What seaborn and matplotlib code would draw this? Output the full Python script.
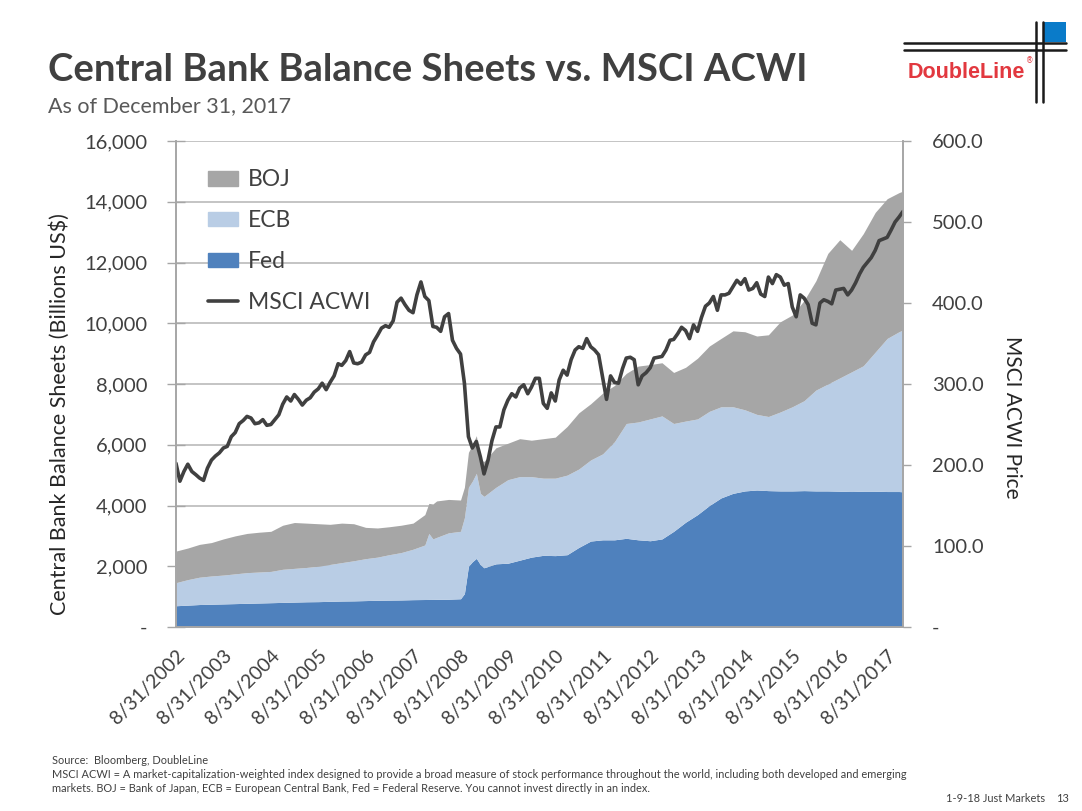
import pandas as pd
import numpy as np
import matplotlib
matplotlib.use("Agg")
import matplotlib.pyplot as plt
import matplotlib.ticker as mticker
from matplotlib.patches import Patch, Rectangle
from matplotlib.lines import Line2D
import seaborn as sns

# balance sheets, billions US$
area_dates = ["2002-08-31", "2002-11-30", "2003-02-28", "2003-05-31", "2003-08-31", "2003-11-30",
              "2004-02-29", "2004-05-31", "2004-08-31", "2004-11-30", "2005-02-28", "2005-05-31", "2005-08-31", "2005-11-30",
              "2006-02-28", "2006-05-31", "2006-08-31", "2006-11-30", "2007-02-28", "2007-05-31", "2007-08-31", "2007-11-30",
              "2007-12-31", "2008-01-31", "2008-02-29", "2008-05-31", "2008-08-31", "2008-09-30", "2008-10-31", "2008-11-30",
              "2008-12-31", "2009-01-31", "2009-02-28", "2009-05-31", "2009-08-31", "2009-11-30", "2010-02-28", "2010-05-31",
              "2010-08-31", "2010-11-30", "2011-02-28", "2011-05-31", "2011-08-31", "2011-11-30", "2012-02-29", "2012-05-31",
              "2012-08-31", "2012-11-30", "2013-02-28", "2013-05-31", "2013-08-31", "2013-11-30", "2014-02-28", "2014-05-31",
              "2014-08-31", "2014-11-30", "2015-02-28", "2015-05-31", "2015-08-31", "2015-11-30", "2016-02-29", "2016-05-31",
              "2016-08-31", "2016-11-30", "2017-02-28", "2017-05-31", "2017-08-31", "2017-11-30", "2017-12-31"]

fed = [700, 720, 740, 750, 760, 770,
       780, 790, 800, 810, 820, 830, 835, 845,
       855, 860, 870, 880, 885, 890, 900, 905,
       907, 908, 910, 915, 930, 1100, 2000, 2150,
       2260, 2050, 1950, 2080, 2100, 2200, 2300, 2360,
       2350, 2380, 2620, 2830, 2870, 2870, 2920, 2870,
       2840, 2900, 3150, 3450, 3700, 4000, 4250, 4400,
       4480, 4510, 4490, 4480, 4480, 4490, 4480, 4480,
       4470, 4460, 4470, 4470, 4460, 4460, 4450]

ecb = [760, 840, 900, 930, 950, 980,
       1010, 1020, 1030, 1090, 1110, 1130, 1165, 1215,
       1265, 1320, 1380, 1420, 1495, 1560, 1660, 1795,
       2173, 1992, 2040, 2185, 2220, 2500, 2600, 2650,
       2800, 2350, 2350, 2520, 2750, 2750, 2650, 2540,
       2550, 2620, 2580, 2670, 2830, 3230, 3780, 3880,
       4010, 4050, 3550, 3330, 3150, 3100, 3000, 2850,
       2670, 2490, 2440, 2600, 2770, 2960, 3320, 3520,
       3730, 3940, 4130, 4580, 5040, 5260, 5330]

boj = [1040, 1040, 1080, 1100, 1190, 1250,
       1290, 1310, 1320, 1450, 1510, 1460, 1400, 1320,
       1300, 1220, 1030, 960, 920, 900, 860, 1000,
       990, 1150, 1200, 1100, 1030, 1000, 1150, 1200,
       1240, 1100, 1150, 1300, 1200, 1250, 1200, 1300,
       1350, 1600, 1850, 1850, 2000, 1850, 1650, 1840,
       1790, 1750, 1680, 1770, 2000, 2150, 2250, 2500,
       2570, 2580, 2690, 2970, 3020, 3300, 3600, 4300,
       4550, 4000, 4350, 4600, 4600, 4580, 4570]

# MSCI ACWI month-end price, Aug 2002 - Dec 2017
msci_start = "2002-08-31"
msci_acwi = [202, 180, 192, 201, 192,
             188, 184, 181, 196, 206, 211, 215, 221, 223, 235, 240, 251,
             255, 260, 258, 251, 252, 256, 249, 250, 256, 262, 275, 284,
             279, 287, 281, 274, 280, 283, 290, 294, 301, 293, 302, 310,
             325, 323, 329, 340, 326, 325, 327, 336, 339, 352, 360, 369,
             372, 370, 378, 401, 406, 398, 391, 388, 410, 426, 408, 403,
             371, 370, 365, 383, 387, 354, 344, 337, 301, 235, 221, 229,
             210, 189, 206, 230, 247, 247, 268, 280, 288, 284, 295, 299,
             288, 296, 307, 307, 276, 270, 289, 279, 305, 317, 311, 330,
             342, 346, 344, 356, 346, 342, 336, 308, 281, 310, 302, 301,
             319, 332, 333, 330, 299, 310, 314, 320, 332, 333, 334, 342,
             354, 355, 362, 370, 366, 356, 373, 365, 382, 396, 400, 408,
             391, 410, 410, 412, 420, 428, 423, 430, 416, 418, 425, 411,
             408, 432, 424, 435, 432, 422, 424, 395, 383, 410, 406, 398,
             375, 373, 400, 404, 402, 399, 416, 417, 418, 410, 416, 425,
             436, 444, 450, 456, 465, 477, 479, 481, 490, 500, 506, 513]

tick_years = list(range(2002, 2018))

sns.set_style("white")
plt.rcParams['font.family'] = ['Lato', 'DejaVu Sans']

area = pd.DataFrame({"date": pd.to_datetime(area_dates), "Fed": fed, "ECB": ecb, "BOJ": boj})
msci = pd.DataFrame({"date": pd.date_range(msci_start, periods=len(msci_acwi), freq="ME"),
                     "MSCI ACWI": msci_acwi})

c_fed, c_ecb, c_boj, c_line = "#4f81bd", "#b9cde5", "#a6a6a6", "#404040"
txt = "#404040"
axis_gray = "#a6a6a6"

fig = plt.figure(figsize=(10.82, 8.11), dpi=100)
ax = fig.add_axes([176 / 1082, 1 - 627 / 811, 727 / 1082, 486 / 811])

ax.stackplot(area["date"], area["Fed"], area["ECB"], area["BOJ"],
             colors=[c_fed, c_ecb, c_boj], linewidth=0)
ax.set_xlim(pd.Timestamp("2002-08-31"), pd.Timestamp("2017-12-31"))
ax.set_ylim(0, 16000)
ax.set_yticks(range(0, 16001, 2000))
ax.yaxis.set_major_formatter(mticker.FuncFormatter(lambda v, p: "-" if v == 0 else f"{v:,.0f}"))
ax.grid(axis="y", color="#bfbfbf", lw=1.3)
ax.grid(axis="x", visible=False)
ax.set_axisbelow(True)

ticks = [pd.Timestamp(f"{y}-08-31") for y in tick_years]
ax.set_xticks(ticks)
ax.set_xticklabels([f"8/31/{y}" for y in tick_years], rotation=45, ha="right",
                   rotation_mode="anchor", fontsize=14, color=txt)
ax.tick_params(axis="x", direction="out", length=5, width=1, color=axis_gray, pad=9)
ax.tick_params(axis="y", direction="inout", length=13, width=1, color=axis_gray, labelsize=14.5,
               labelcolor=txt, pad=14)
ax.set_xlabel("")
ax.set_ylabel("")

ax2 = ax.twinx()
sns.lineplot(data=msci, x="date", y="MSCI ACWI", ax=ax2, color=c_line, lw=2.6, legend=False)
ax2.set_ylim(0, 600)
ax2.set_yticks(range(0, 601, 100))
ax2.yaxis.set_major_formatter(mticker.FuncFormatter(lambda v, p: "-" if v == 0 else f"{v:.1f}"))
ax2.tick_params(axis="y", direction="out", length=6, width=1, color=axis_gray, labelsize=14.5,
                labelcolor=txt, pad=15)
ax2.set_ylabel("")
ax2.set_xlabel("")
ax2.grid(False)

for a in (ax, ax2):
    a.spines["top"].set_visible(False)
    for s in ("left", "right", "bottom"):
        a.spines[s].set_color(axis_gray)
        a.spines[s].set_linewidth(1.2)

handles = [Patch(color=c_boj, label="BOJ"), Patch(color=c_ecb, label="ECB"),
           Patch(color=c_fed, label="Fed"), Line2D([], [], color=c_line, lw=2.6, label="MSCI ACWI")]
leg = ax2.legend(handles=handles, loc="upper left", bbox_to_anchor=(0.044, 0.942), frameon=False,
                 fontsize=16.5, handlelength=1.3, handleheight=0.62, labelspacing=0.87,
                 handletextpad=0.45, borderpad=0, borderaxespad=0)
for t in leg.get_texts():
    t.set_color(txt)

fig.text(60 / 1082, 1 - 414 / 811, "Central Bank Balance Sheets (Billions US$)", rotation=90,
         ha="center", va="center", fontsize=15.5, color="#262626")
fig.text(1012 / 1082, 1 - 417 / 811, "MSCI ACWI Price", rotation=270,
         ha="center", va="center", fontsize=15, color="#262626")

fig.text(48 / 1082, 1 - 70 / 811, "Central Bank Balance Sheets vs. MSCI ACWI", ha="left", va="center",
         fontsize=27.5, fontweight="bold", color=txt)
fig.text(48 / 1082, 1 - 106 / 811, "As of December 31, 2017", ha="left", va="center",
         fontsize=15.5, color="#595959")

fig.text(52 / 1082, 1 - 760 / 811, "Source:  Bloomberg, DoubleLine", fontsize=7.9, color=txt, va="center")
fig.text(52 / 1082, 1 - 775 / 811, "MSCI ACWI = A market-capitalization-weighted index designed to provide a broad "
         "measure of stock performance throughout the world, including both developed and emerging",
         fontsize=7.9, color=txt, va="center")
fig.text(52 / 1082, 1 - 789 / 811, "markets. BOJ = Bank of Japan, ECB = European Central Bank, Fed = Federal "
         "Reserve. You cannot invest directly in an index.", fontsize=7.9, color=txt, va="center")
fig.text(1045 / 1082, 1 - 798 / 811, "1-9-18 Just Markets", fontsize=7.9, color=txt, va="center", ha="right")
fig.text(1069 / 1082, 1 - 798 / 811, "13", fontsize=7.9, color=txt, va="center", ha="right")

# logo
def fx(x):
    return x / 1082

def fy(y):
    return 1 - y / 811

for yy in (43, 50):
    fig.add_artist(Line2D([fx(904), fx(1066)], [fy(yy), fy(yy)], color="#1a1a1a", lw=1.8))
for xx in (1036, 1043):
    fig.add_artist(Line2D([fx(xx), fx(xx)], [fy(22), fy(102)], color="#1a1a1a", lw=1.8))
fig.add_artist(Rectangle((fx(1044), fy(42)), fx(22), 20 / 811, color="#0a7bc9", lw=0))
fig.text(fx(966), fy(73), "DoubleLine", family="Liberation Sans", fontweight="bold", fontsize=15.5,
         color="#e2383f", ha="center", va="center")
fig.text(fx(1030), fy(61), "®", family="DejaVu Sans", fontsize=5.5, color="#e2383f", ha="center", va="center")

fig.savefig("out.png", dpi=100)
